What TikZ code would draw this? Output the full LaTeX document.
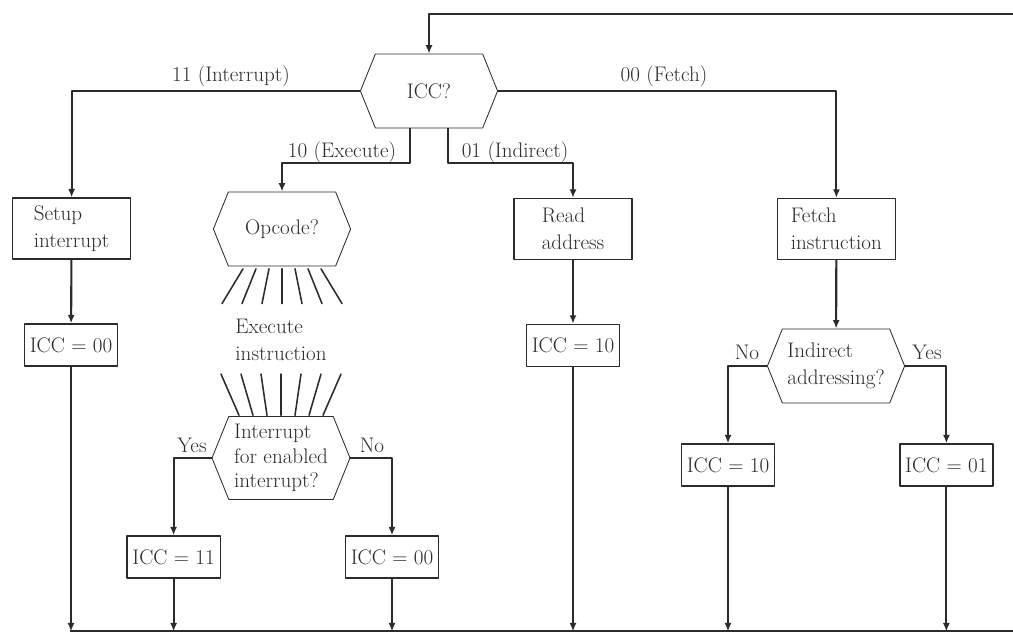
\documentclass[tikz,border=0pt]{standalone}
\usepackage{fontspec}
\usetikzlibrary{arrows.meta,shapes.symbols,calc}
\definecolor{ink}{HTML}{2B2B2B}
\tikzset{
	box/.style={draw=ink, line width=1pt, text=ink, align=left, inner xsep=2pt, minimum width=2.95cm, minimum height=1.525cm},
	smallbox/.style={box, minimum width=2.33cm, minimum height=1.05cm},
	hexa/.style={draw=ink, line width=0.6pt, text=ink, shape=signal, signal to=east and west, signal pointer angle=136, inner sep=0pt, align=left, minimum width=3.43cm, minimum height=1.85cm},
	lbl/.style={text=ink, inner sep=1pt},
	flow/.style={draw=ink, line width=1.5pt, -{Latex[length=6pt,width=5pt]}},
	ray/.style={draw=ink, line width=1.1pt, line cap=round},
}
\begin{document}
\begin{tikzpicture}[font=\fontsize{15}{19}\selectfont, line join=round] %instruction cycle with ICC
	\useasboundingbox (0,0) rectangle (25.325,15.825);
	\node[hexa] (icc) at (10.725,13.55) {ICC?};
	\node[box] (setup) at (1.79,10.11) {Setup\\interrupt};
	\node[smallbox] (iccA) at (1.775,7.2) {ICC = 00};
	\node[hexa] (opc) at (7.05,10.1) {Opcode?};
	\node[lbl, align=left] (exe) at (7.025,7.325) {Execute\\instruction};
	\node[hexa, minimum width=3.45cm, minimum height=2.075cm, font=\fontsize{15}{17.5}\selectfont] (intr) at (7.025,4.375) {Interrupt\\for enabled\\interrupt?};
	\node[smallbox] (iccB) at (4.34,1.9) {ICC = 11};
	\node[smallbox] (iccC) at (9.8,1.9) {ICC = 00};
	\node[box] (rd) at (14.325,10.1) {Read\\address};
	\node[smallbox] (iccD) at (14.325,7.19) {ICC = 10};
	\node[box] (fet) at (20.91,10.1) {Fetch\\instruction};
	\node[hexa] (ind) at (20.9,6.675) {Indirect\\addressing?};
	\node[smallbox] (iccE) at (18.2,4.2) {ICC = 10};
	\node[smallbox] (iccF) at (23.66,4.2) {ICC = 01};
	\coordinate (bot) at (1.75,0.04);
	\coordinate (top) at (26,15.475);
	% branch labels
	\node[lbl] (l11) at (5.775,13.925) {11 (Interrupt)};
	\node[lbl] (l10) at (8.55,12.025) {10 (Execute)};
	\node[lbl] (l01) at (12.875,12.025) {01 (Indirect)};
	\node[lbl] (l00) at (16.6,13.925) {00 (Fetch)};
	\node[lbl] (yA) at (4.8,4.7) {Yes};
	\node[lbl] (nA) at (9.3,4.7) {No};
	\node[lbl] (nB) at (18.675,7.025) {No};
	\node[lbl] (yB) at (23.175,7.025) {Yes};
	% connectors
	\draw[flow] (icc.west) -| (setup.north);
	\draw[flow] ([xshift=-0.475cm]icc.south) -- ++(0,-0.875) -| (opc.north);
	\draw[flow] ([xshift=0.475cm]icc.south) -- ++(0,-0.875) -| (rd.north);
	\draw[flow] (icc.east) -| (fet.north);
	\draw[flow] (setup) -- (iccA);
	\draw[flow] (rd) -- (iccD);
	\draw[flow] (fet) -- (ind);
	\draw[flow] (intr.west) -| (iccB.north);
	\draw[flow] (intr.east) -| (iccC.north);
	\draw[flow] (ind.west) -| (iccE.north);
	\draw[flow] (ind.east) -| (iccF.north);
	\foreach \k in {-3,...,3}
		\draw[ray] ($(opc.south)+(0.325*\k,-0.06)$) -- ($(opc.south)+(0.5*\k,-0.93)$);
	\foreach \k in {-3,...,3}
		\draw[ray] ($(intr.north)+(0.5*\k,1.05)$) -- ($(intr.north)+(0.35*\k,0.02)$);
	\foreach \b in {iccA,iccB,iccC,iccD,iccE,iccF}
		\draw[flow] (\b.south) -- (\b.south |- bot);
	\draw[flow] (bot) -| (top) -| (icc.north);
\end{tikzpicture}
\end{document}
